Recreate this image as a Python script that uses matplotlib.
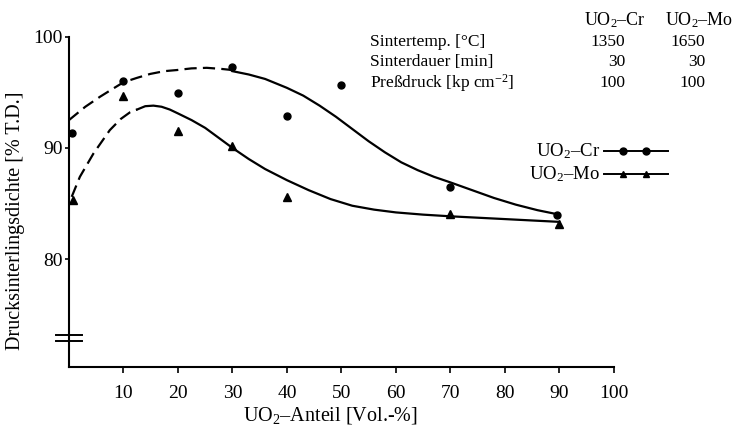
import matplotlib

matplotlib.use("Agg")
import matplotlib.pyplot as plt
import matplotlib.transforms as mtransforms

plt.rcParams["font.family"] = ["Liberation Serif", "DejaVu Serif"]
plt.rcParams["mathtext.fontset"] = "custom"
plt.rcParams["mathtext.rm"] = "Liberation Serif"
plt.rcParams["mathtext.it"] = "Liberation Serif:italic"

# measured points
cr_x = [0.5, 10, 20, 30, 40, 50, 70, 89.5]
cr_y = [91.3, 96.0, 94.9, 97.3, 92.9, 95.7, 86.5, 84.0]
mo_x = [0.8, 10, 20, 30, 40, 70, 90]
mo_y = [85.3, 94.7, 91.5, 90.2, 85.6, 84.1, 83.2]

# hand-drawn trend curves
cr_dash_x = [0, 3, 5.7, 8, 10, 12.5, 14.9, 17.5, 19.8, 22.5, 25.3, 28, 30]
cr_dash_y = [92.5, 93.7, 94.6, 95.3, 95.9, 96.3, 96.65, 96.9, 97.0, 97.15, 97.2, 97.1, 97.0]
cr_solid_x = [30, 33, 36, 40, 43, 46, 49, 52, 55, 58, 61, 64, 67, 70, 74, 78, 82, 86, 90]
cr_solid_y = [96.9, 96.6, 96.2, 95.4, 94.7, 93.8, 92.8, 91.7, 90.6, 89.6, 88.7, 88.0, 87.4,
              86.9, 86.2, 85.5, 84.9, 84.4, 84.0]
mo_dash_x = [0.5, 2, 4.5, 7.5, 9.5, 11.2, 12.5]
mo_dash_y = [85.6, 87.4, 89.5, 91.6, 92.6, 93.2, 93.45]
mo_solid_x = [12.5, 14, 15.5, 17, 18.5, 20, 22.5, 25, 27.5, 30, 33, 36, 40, 44, 48, 52, 56,
              60, 65, 70, 76, 82, 88, 90]
mo_solid_y = [93.45, 93.75, 93.8, 93.7, 93.45, 93.1, 92.5, 91.8, 90.9, 90.0, 89.0, 88.1, 87.1,
              86.2, 85.4, 84.8, 84.45, 84.2, 84.0, 83.85, 83.7, 83.55, 83.4, 83.35]

x_ticks = [10, 20, 30, 40, 50, 60, 70, 80, 90, 100]
y_ticks = [80, 90, 100]

table_header = ["UO$_2$–Cr", "UO$_2$–Mo"]
table_rows = ["Sintertemp. [°C]", "Sinterdauer [min]", "Preßdruck [kp cm$^{-2}$]"]
table_cr = ["1350", "30", "100"]
table_mo = ["1650", "30", "100"]

fig = plt.figure(figsize=(7.44, 4.28), dpi=100)
ax = fig.add_axes([0.0927, 0.1425, 0.7323, 0.7718])

lw = 1.6
ax.plot(cr_dash_x, cr_dash_y, color="black", lw=lw, dashes=(5.5, 2.8))
ax.plot(cr_solid_x, cr_solid_y, color="black", lw=lw)
ax.plot(mo_dash_x, mo_dash_y, color="black", lw=lw, dashes=(5.5, 2.8))
ax.plot(mo_solid_x, mo_solid_y, color="black", lw=lw)
ax.plot(cr_x, cr_y, "o", color="black", ms=5, clip_on=False)
ax.plot(mo_x, mo_y, "^", color="black", ms=5.5, clip_on=False)

ax.set_xlim(0, 100)
ax.set_ylim(70.3, 100)
ax.set_xticks(x_ticks)
ax.set_yticks(y_ticks)
ax.tick_params(direction="out", length=4, width=1.2, labelsize=14, colors="black")
ax.tick_params(axis="x", pad=9)
ax.tick_params(axis="y", pad=1.5, length=3)
ax.spines["top"].set_visible(False)
ax.spines["right"].set_visible(False)
ax.spines["left"].set_linewidth(1.5)
ax.spines["bottom"].set_linewidth(1.5)

ax.set_xlabel("UO$_2$–Anteil [Vol.-%]", fontsize=14.5)
ax.xaxis.set_label_coords(0.479, -0.148)
ax.set_ylabel("Drucksinterlingsdichte [% T.D.]", fontsize=14.5)
ax.yaxis.set_label_coords(-0.099, 0.442)
ax.xaxis.label.set_va("center")
ax.yaxis.label.set_va("center")

# axis break marks
trans = mtransforms.blended_transform_factory(ax.transAxes, ax.transData)
for yb in (73.15, 72.65):
    ax.plot([-0.024, 0.024], [yb, yb], color="black", lw=1.4, transform=trans, clip_on=False)

# parameter table
ft = fig.transFigure
fs = 12.5
fig.text(615 / 744, 1 - 20 / 428, table_header[0], ha="center", va="center", fontsize=13)
fig.text(699 / 744, 1 - 20 / 428, table_header[1], ha="center", va="center", fontsize=13)
for i, lab in enumerate(table_rows):
    yy = 1 - (42 + 20.5 * i) / 428
    fig.text(370 / 744, yy, lab, ha="left", va="center", fontsize=fs)
    fig.text(625 / 744, yy, table_cr[i], ha="right", va="center", fontsize=fs)
    fig.text(705 / 744, yy, table_mo[i], ha="right", va="center", fontsize=fs)

# legend drawn by hand
for name, marker, yy in ((table_header[0], "o", 151), (table_header[1], "^", 174)):
    yf = 1 - yy / 428
    fig.text(600 / 744, yf, name, ha="right", va="center", fontsize=13.5)
    fig.add_artist(plt.Line2D([604 / 744, 668 / 744], [yf, yf], color="black", lw=1.4, transform=ft))
    fig.add_artist(plt.Line2D([623 / 744, 646 / 744], [yf, yf], color="black", lw=0,
                              marker=marker, ms=5, transform=ft))

fig.savefig("out.png", dpi=100)
